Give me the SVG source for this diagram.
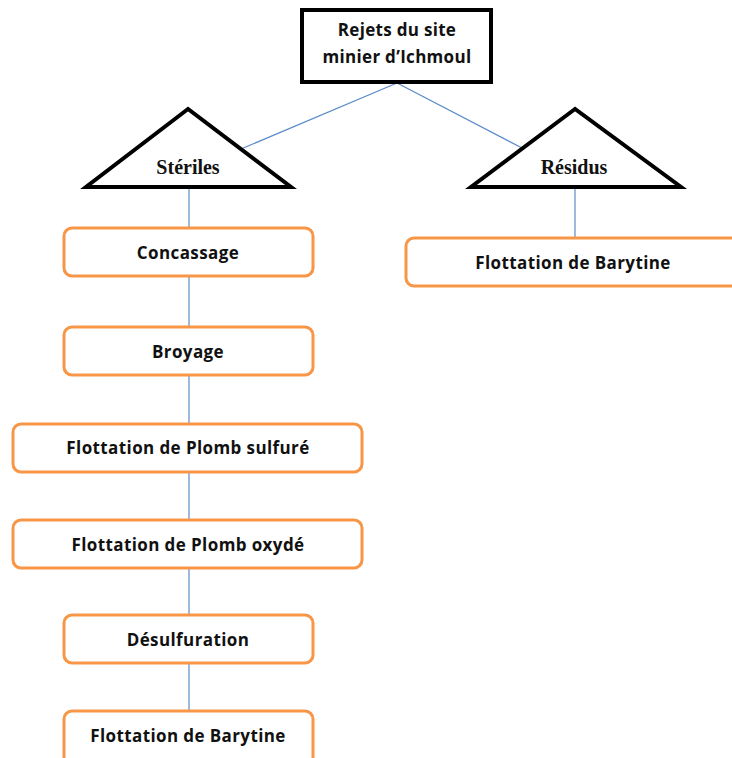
<svg xmlns="http://www.w3.org/2000/svg" width="732" height="758" viewBox="0 0 732 758">
  <style>
    .conn { stroke: #5B8BC9; stroke-width: 1.2; fill: none; }
    .step rect { fill: #FFFFFF; stroke: #F79646; stroke-width: 3; }
    .step text { font-family: "Open Sans", "Liberation Sans", sans-serif; font-weight: bold; font-size: 17px; letter-spacing: 0.4px; fill: #111111; text-anchor: middle; }
    .tri polygon { fill: #FFFFFF; stroke: #000000; stroke-width: 4; stroke-linejoin: miter; }
    .tri text { font-family: "Liberation Serif", "DejaVu Serif", serif; font-weight: bold; font-size: 20px; fill: #111111; text-anchor: middle; }
    .root rect { fill: #FFFFFF; stroke: #000000; stroke-width: 4; }
    .root text { font-family: "Open Sans", "Liberation Sans", sans-serif; font-weight: bold; font-size: 17px; letter-spacing: 0.3px; fill: #111111; text-anchor: middle; }
  </style>
  <rect width="732" height="758" fill="#FFFFFF"/>

  <!-- connectors -->
  <g id="connectors">
    <line class="conn" x1="397" y1="83" x2="241" y2="149"/>
    <line class="conn" x1="397" y1="83" x2="522" y2="148"/>
    <line class="conn" x1="575" y1="187" x2="575" y2="237"/>
    <line class="conn" x1="189" y1="187" x2="189" y2="228"/>
    <line class="conn" x1="189" y1="276" x2="189" y2="326"/>
    <line class="conn" x1="189" y1="375" x2="189" y2="423"/>
    <line class="conn" x1="189" y1="473" x2="189" y2="520"/>
    <line class="conn" x1="189" y1="568" x2="189" y2="615"/>
    <line class="conn" x1="189" y1="663" x2="189" y2="710"/>
  </g>

  <!-- root node -->
  <g id="rejets" class="root">
    <rect x="302" y="10" width="189" height="72"/>
    <text x="397" y="36">Rejets du site</text>
    <text x="397" y="63">minier d’Ichmoul</text>
  </g>

  <!-- categories -->
  <g id="steriles" class="tri">
    <polygon points="188,109 86,187 291,187"/>
    <text x="188" y="174">Stériles</text>
  </g>
  <g id="residus" class="tri">
    <polygon points="575,109 471,187 681,187"/>
    <text x="574" y="174">Résidus</text>
  </g>

  <!-- residus branch -->
  <g id="flottation-barytine-residus" class="step">
    <rect x="406" y="238" width="340" height="48" rx="8"/>
    <text x="573" y="269">Flottation de Barytine</text>
  </g>

  <!-- steriles branch -->
  <g id="concassage" class="step">
    <rect x="64" y="228" width="249" height="48" rx="8"/>
    <text x="188" y="259">Concassage</text>
  </g>
  <g id="broyage" class="step">
    <rect x="64" y="327" width="249" height="48" rx="8"/>
    <text x="188" y="358">Broyage</text>
  </g>
  <g id="plomb-sulfure" class="step">
    <rect x="13" y="424" width="349" height="48" rx="8"/>
    <text x="188" y="454">Flottation de Plomb sulfuré</text>
  </g>
  <g id="plomb-oxyde" class="step">
    <rect x="13" y="520" width="349" height="48" rx="8"/>
    <text x="188" y="551">Flottation de Plomb oxydé</text>
  </g>
  <g id="desulfuration" class="step">
    <rect x="64" y="615" width="249" height="48" rx="8"/>
    <text x="188" y="646">Désulfuration</text>
  </g>
  <g id="flottation-barytine-steriles" class="step">
    <rect x="64" y="711" width="249" height="60" rx="8"/>
    <text x="188" y="742">Flottation de Barytine</text>
  </g>
</svg>
